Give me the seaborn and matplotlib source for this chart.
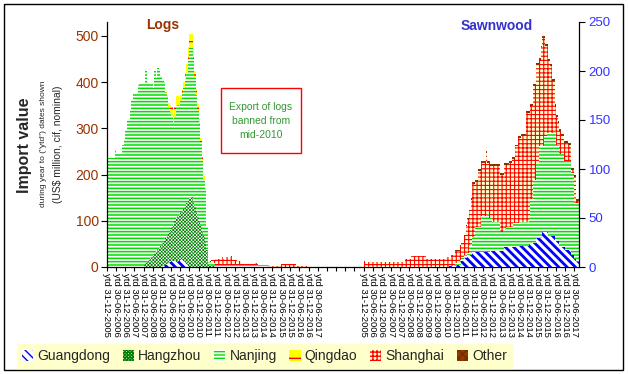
import numpy as np
import matplotlib
matplotlib.use("Agg")
import matplotlib.pyplot as plt
from matplotlib.patches import Patch, Rectangle
import seaborn as sns

# -----------------------------
# STYLE
# -----------------------------
sns.set_theme(style="white")
plt.rcParams["font.family"] = ["Liberation Sans", "DejaVu Sans"]

# -----------------------------
# DATA  (monthly, rolling "ytd" values, US$ million)
# logs: Dec-2005 .. Aug-2017, sawnwood: same months
# -----------------------------
PORTS = ["Guangdong", "Hangzhou", "Nanjing", "Qingdao", "Shanghai", "Other"]

log_guangdong = ([0] * 36
                 + [2, 3, 4, 6, 8, 10, 12, 13, 14, 12, 10, 13, 15, 15, 14, 10, 6, 3]
                 + [0] * 43 + [1, 1] + [0] * 40 + [2, 2])

log_hangzhou = ([0] * 24
                + [5, 8, 12, 16, 19, 22, 26, 30, 34, 38, 42, 46, 50, 54, 58, 62,
                   66, 70, 75, 81, 86, 93, 100, 101, 103, 107, 112, 122, 132, 142,
                   150, 152, 140, 130, 120, 108, 98, 88, 78, 68, 55, 37, 5, 5, 3, 3, 3]
                + [0] * 70)

log_nanjing = ([235, 235, 235, 235, 235, 255, 246, 246, 246, 246, 264, 275, 297,
                318, 318, 340, 361, 376, 376, 376, 394, 398, 398, 398, 393,
                420, 389, 382, 379, 376, 361, 393, 374, 392, 381, 366, 353,
                344, 314, 299, 272, 255, 240, 215, 225, 244, 241, 231, 242,
                253, 262, 273, 282, 305, 323, 321, 310, 278, 253, 229, 210,
                182, 151, 121, 112, 47]
               + [5] * 31 + [4] * 9 + [0] * 35)

log_qingdao = ([0] * 38
               + [3, 5, 8, 15, 20, 20, 22, 20, 18, 15, 12, 10, 12, 15, 20, 25,
                  30, 30, 25, 15, 12, 15, 12, 10, 8, 8, 5, 3]
               + [0] * 75)

log_shanghai = ([0] * 66
                + [2, 2, 7, 7, 7, 13, 13, 13, 17, 17, 13, 13, 17, 17, 17, 19,
                   10, 10, 10, 7, 7, 7]
                + [1] * 9 + [3, 3] + [0] * 7 + [2] * 8 + [6] * 10 + [2] * 8 + [0] * 9)

log_other = [0] * 141

saw_guangdong = ([0] * 56 + [1] * 5 + [2] * 3 + [6] * 2 + [9] * 2 + [12] * 3
                 + [15] * 12 + [16] * 9 + [20] * 10 + [21] * 6 + [25] * 5
                 + [30] * 4 + [36] * 4 + [32] * 4 + [27] * 3 + [20] * 4
                 + [17] * 4 + [12] * 2 + [8] + [5] * 2)

saw_hangzhou = [0] * 141

saw_nanjing = ([0] * 60
               + [3, 2, 2, 5, 3, 3, 3, 3, 2, 9, 9, 16, 16, 26, 26, 26, 26, 37, 37,
                  37, 37, 40, 35, 34, 30, 30, 30, 30, 30, 20, 20, 22, 18, 21, 21,
                  21, 21, 21, 25, 25, 25, 25, 25, 25, 25, 25, 25, 25, 23, 44, 44,
                  64, 64, 76, 76, 93, 93, 87, 98, 98, 101, 105, 105, 105, 107, 112,
                  98, 98, 95, 95, 95, 88, 91, 91, 91, 91, 84, 84, 57, 60, 60])

saw_qingdao = [0] * 141

saw_shanghai = ([6] + [5] * 26 + [8] * 4 + [11] * 10 + [8] * 12 + [10] * 3 + [9]
                + [11] * 3 + [12] * 3 + [14] * 3
                + [20, 30, 35, 36, 47, 54, 54, 46, 46, 57, 57, 54, 54, 54, 64, 51,
                   56, 53, 57, 57, 57, 57, 57, 58, 58, 56, 66, 63, 63, 65, 65, 69,
                   65, 78, 78, 87, 86, 88, 88, 88, 111, 111, 109, 95, 95, 96, 96,
                   100, 100, 88, 101, 111, 100, 92, 89, 73, 68, 53, 51, 25, 28, 22,
                   24, 19, 19, 19, 19, 19, 17, 17, 3, 3, 27, 2, 2])

saw_other = [0] * 60 + [1] * 10 + [2] * 71

DATES = ["31-12-2005", "30-06-2006", "31-12-2006", "30-06-2007", "31-12-2007",
         "30-06-2008", "31-12-2008", "30-06-2009", "31-12-2009", "30-06-2010",
         "31-12-2010", "30-06-2011", "31-12-2011", "30-06-2012", "31-12-2012",
         "30-06-2013", "31-12-2013", "30-06-2014", "31-12-2014", "30-06-2015",
         "31-12-2015", "30-06-2016", "31-12-2016", "30-06-2017"]

LOG_START = 0
SAW_START = 168
N_CATS = 309

# -----------------------------
# PATTERNS
# -----------------------------
STYLE = {
    "Guangdong": dict(face="white", color="#0000FF", hatch="\\\\\\\\", hlw=2.0),
    "Hangzhou": dict(face="white", color="#008000", hatch="xxxxxxxxxx", hlw=0.5),
    "Nanjing": dict(face="white", color="#00DD00", hatch="-----", hlw=1.1),
    "Qingdao": dict(face="#FFFF00", color="#FF0000", hatch="-", hlw=0.9),
    "Shanghai": dict(face="#FFFFCC", color="#FF0000", hatch="++++", hlw=0.8),
    "Other": dict(face="#993300", color="#663300", hatch="xxxx", hlw=0.6),
}


def draw_stack(ax, start, layers):
    n = len(layers[0])
    edges = np.arange(start, start + n + 1)
    base = np.zeros(n)
    for port, vals in zip(PORTS, layers):
        vals = np.asarray(vals, dtype=float)
        st = STYLE[port]
        with plt.rc_context({"hatch.linewidth": st["hlw"]}):
            patch = ax.stairs(base + vals, edges, baseline=base.copy(), fill=True,
                              facecolor=st["face"], edgecolor=st["color"],
                              hatch=st["hatch"], linewidth=0)
        if hasattr(patch, "set_hatch_linewidth"):
            patch.set_hatch_linewidth(st["hlw"])
        base = base + vals


# -----------------------------
# FIGURE
# -----------------------------
fig = plt.figure(figsize=(6.28, 3.74), dpi=100)
fig.patch.set_facecolor("white")

ax = fig.add_axes([107 / 628, 1 - 267 / 374, 472 / 628, 245 / 374])
ax.set_facecolor("white")
ax2 = ax.twinx()

draw_stack(ax, LOG_START,
           [log_guangdong, log_hangzhou, log_nanjing, log_qingdao, log_shanghai, log_other])
draw_stack(ax2, SAW_START,
           [saw_guangdong, saw_hangzhou, saw_nanjing, saw_qingdao, saw_shanghai, saw_other])

ax.set_xlim(0, N_CATS)
ax.set_ylim(0, 530)
ax2.set_ylim(0, 250)

# x axis
tick_pos = list(range(0, SAW_START + 139, 6))
tick_lab = ["ytd " + d for d in DATES] + [""] * 4 + ["ytd " + d for d in DATES]
ax.set_xticks(tick_pos)
ax.set_xticklabels(tick_lab, rotation=-90, fontsize=6.8, color="black")
ax.tick_params(axis="x", bottom=True, length=3, width=0.8, pad=1.5, color="black")

# y axes
ax.set_yticks(range(0, 501, 100))
ax.tick_params(axis="y", left=True, length=4, width=0.8, color="black",
               labelcolor="#993300", labelsize=10, pad=2)
ax2.set_yticks(range(0, 251, 50))
ax2.tick_params(axis="y", right=True, length=4, width=0.8, color="black",
                labelcolor="#3333FF", labelsize=9.5, pad=3)

for a in (ax, ax2):
    a.spines["top"].set_visible(False)
    for s in ("left", "right", "bottom"):
        a.spines[s].set_color("black")
        a.spines[s].set_linewidth(0.9)
ax.spines["right"].set_visible(False)
ax2.spines["left"].set_visible(False)
ax2.spines["bottom"].set_visible(False)

# titles
fig.text(163 / 628, 1 - 25 / 374, "Logs", color="#993300", fontsize=10,
         fontweight="bold", ha="center", va="center")
fig.text(497 / 628, 1 - 26 / 374, "Sawnwood", color="#3333CC", fontsize=10,
         fontweight="bold", ha="center", va="center")

# y labels
fig.text(25 / 628, 1 - 145 / 374, "Import value", rotation=90, fontsize=11.5,
         fontweight="bold", ha="center", va="center")
fig.text(44 / 628, 1 - 144 / 374, 'during year to ("ytd") dates shown', rotation=90,
         fontsize=6, ha="center", va="center")
fig.text(58 / 628, 1 - 144 / 374, "(US$ million, cif, nominal)", rotation=90,
         fontsize=7.5, ha="center", va="center")

# ban note
fig.patches.append(Rectangle((221 / 628, 1 - 153 / 374), 80 / 628, 65 / 374,
                             transform=fig.transFigure, fill=True, facecolor="white",
                             edgecolor="#FF0000", linewidth=1))
fig.text(261 / 628, 1 - 120.5 / 374, "Export of logs\nbanned from\nmid-2010",
         color="#339933", fontsize=7.5, ha="center", va="center", linespacing=1.5)

# legend
handles = [Patch(facecolor=STYLE[p]["face"], edgecolor=STYLE[p]["color"],
                 hatch=STYLE[p]["hatch"], linewidth=0) for p in PORTS]
leg = fig.legend(handles, PORTS, loc="lower left",
                 bbox_to_anchor=(17 / 628, 1 - 368 / 374, 495 / 628, 24 / 374),
                 mode="expand", ncol=6, frameon=True, fancybox=False,
                 facecolor="#FFFFCC", edgecolor="#FFFFCC", framealpha=1,
                 fontsize=10, handlelength=0.8, handleheight=0.9,
                 handletextpad=0.3, borderaxespad=0, borderpad=0.35,
                 columnspacing=0.8)

# outer border
fig.patches.append(Rectangle((4 / 628, 1 - 370 / 374), 619 / 628, 366 / 374,
                             transform=fig.transFigure, fill=False,
                             edgecolor="black", linewidth=1))

fig.savefig("out.png", dpi=100)
